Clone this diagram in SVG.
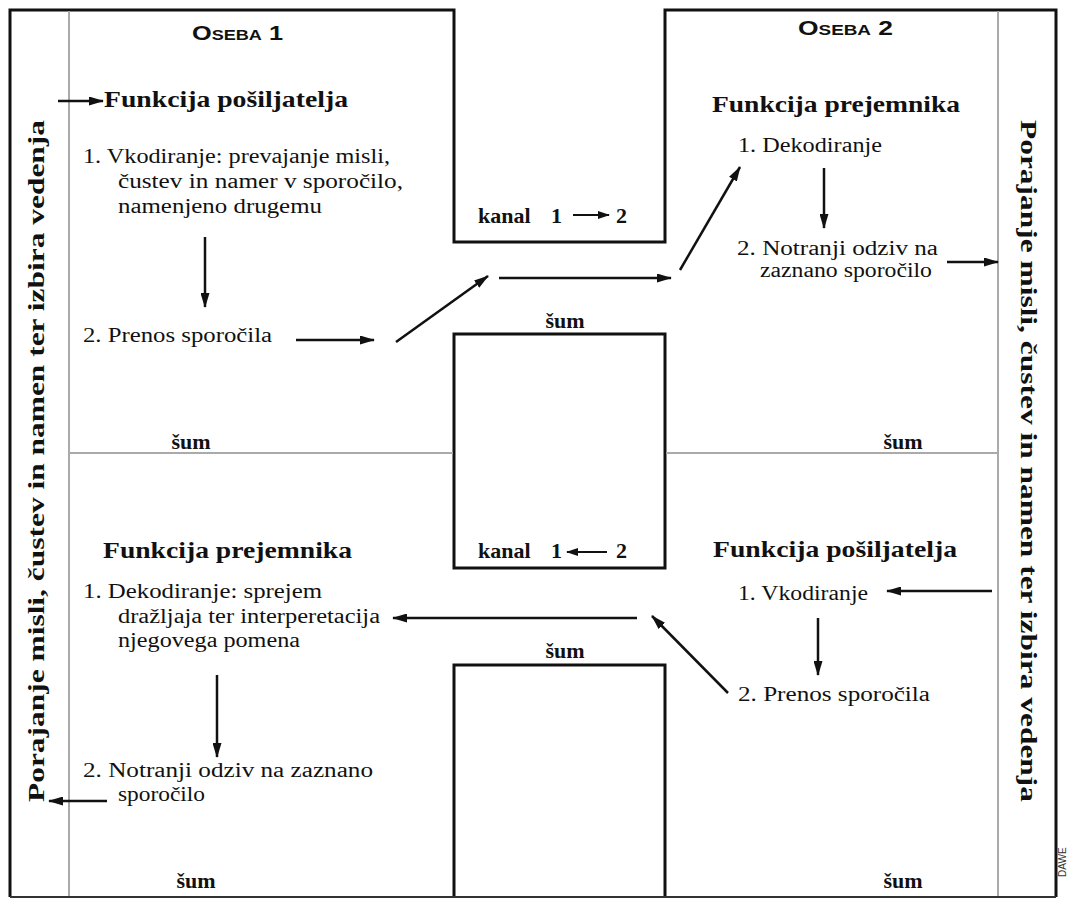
<svg xmlns="http://www.w3.org/2000/svg" width="1067" height="898" viewBox="0 0 1067 898">
<style>
  .frame{fill:none;stroke:#111;stroke-width:3}
  .grey{fill:none;stroke:#aaa;stroke-width:2}
  .bottom{stroke:#333;stroke-width:2}
  .hd{font-family:"Liberation Serif","Times New Roman",serif;font-weight:bold;font-size:24px;fill:#111}
  .tx{font-family:"Liberation Serif","Times New Roman",serif;font-size:20px;fill:#111}
  .sum{font-family:"Liberation Serif","Times New Roman",serif;font-weight:bold;font-size:22px;fill:#111;text-anchor:middle}
  .kan{font-family:"Liberation Serif","Times New Roman",serif;font-weight:bold;font-size:22px;fill:#111}
  .os{font-family:"Liberation Sans",Arial,sans-serif;font-weight:bold;font-size:21px;font-variant:small-caps;fill:#111}
  .vt{font-family:"Liberation Serif","Times New Roman",serif;font-weight:bold;font-size:24px;fill:#111}
  .ar{fill:none;stroke:#111;stroke-width:2.5}
  .ark{fill:none;stroke:#111;stroke-width:2}
</style>
<defs>
  <marker id="ah" markerUnits="userSpaceOnUse" markerWidth="15" markerHeight="9" refX="14" refY="4.5" orient="auto">
    <path d="M0,0 L15,4.5 L0,9 z" fill="#111"/>
  </marker>
  <marker id="ahs" markerUnits="userSpaceOnUse" markerWidth="12" markerHeight="8" refX="11" refY="4" orient="auto">
    <path d="M0,0 L12,4 L0,8 z" fill="#111"/>
  </marker>
</defs>
<rect width="1067" height="898" fill="#fff"/>

<g id="frame">
  <path class="frame" d="M10,897 V10 H454 V242 H665 V10 H1056 V897"/>
  <rect class="frame" x="454" y="334" width="211" height="234"/>
  <path class="frame" d="M454,897 V665 H665 V897"/>
  <line class="bottom" x1="10" y1="897" x2="1056" y2="897"/>
  <line class="grey" x1="69" y1="11" x2="69" y2="896"/>
  <line class="grey" x1="998" y1="11" x2="998" y2="896"/>
  <line class="grey" x1="69" y1="453" x2="453" y2="453"/>
  <line class="grey" x1="666" y1="453" x2="998" y2="453"/>
</g>

<g id="oseba1-label"><text class="os" x="192" y="40" textLength="91" lengthAdjust="spacingAndGlyphs">Oseba 1</text></g>
<g id="oseba2-label"><text class="os" x="798" y="35" textLength="95" lengthAdjust="spacingAndGlyphs">Oseba 2</text></g>

<g id="origin-left">
  <text class="vt" transform="translate(44,802) rotate(-90)" textLength="682" lengthAdjust="spacingAndGlyphs">Porajanje misli, čustev in namen ter izbira vedenja</text>
</g>
<g id="origin-right">
  <text class="vt" transform="translate(1021,120) rotate(90)" textLength="682" lengthAdjust="spacingAndGlyphs">Porajanje misli, čustev in namen ter izbira vedenja</text>
</g>

<g id="p1-sender">
  <text class="hd" x="104" y="107" textLength="244" lengthAdjust="spacingAndGlyphs">Funkcija pošiljatelja</text>
  <text class="tx" x="83" y="163" textLength="307" lengthAdjust="spacingAndGlyphs">1. Vkodiranje: prevajanje misli,</text>
  <text class="tx" x="118" y="188" textLength="285" lengthAdjust="spacingAndGlyphs">čustev in namer v sporočilo,</text>
  <text class="tx" x="118" y="213" textLength="204" lengthAdjust="spacingAndGlyphs">namenjeno drugemu</text>
  <text class="tx" x="83" y="342" textLength="189" lengthAdjust="spacingAndGlyphs">2. Prenos sporočila</text>
</g>

<g id="p2-receiver">
  <text class="hd" x="712" y="112" textLength="248" lengthAdjust="spacingAndGlyphs">Funkcija prejemnika</text>
  <text class="tx" x="738" y="152" textLength="144" lengthAdjust="spacingAndGlyphs">1. Dekodiranje</text>
  <text class="tx" x="737" y="255" textLength="201" lengthAdjust="spacingAndGlyphs">2. Notranji odziv na</text>
  <text class="tx" x="760" y="277" textLength="172" lengthAdjust="spacingAndGlyphs">zaznano sporočilo</text>
</g>

<g id="p1-receiver">
  <text class="hd" x="103" y="558" textLength="249" lengthAdjust="spacingAndGlyphs">Funkcija prejemnika</text>
  <text class="tx" x="83" y="598" textLength="239" lengthAdjust="spacingAndGlyphs">1. Dekodiranje: sprejem</text>
  <text class="tx" x="118" y="623" textLength="262" lengthAdjust="spacingAndGlyphs">dražljaja ter interperetacija</text>
  <text class="tx" x="118" y="647" textLength="182" lengthAdjust="spacingAndGlyphs">njegovega pomena</text>
  <text class="tx" x="83" y="777" textLength="290" lengthAdjust="spacingAndGlyphs">2. Notranji odziv na zaznano</text>
  <text class="tx" x="118" y="801" textLength="87" lengthAdjust="spacingAndGlyphs">sporočilo</text>
</g>

<g id="p2-sender">
  <text class="hd" x="713" y="557" textLength="244" lengthAdjust="spacingAndGlyphs">Funkcija pošiljatelja</text>
  <text class="tx" x="738" y="600" textLength="130" lengthAdjust="spacingAndGlyphs">1. Vkodiranje</text>
  <text class="tx" x="738" y="701" textLength="192" lengthAdjust="spacingAndGlyphs">2. Prenos sporočila</text>
</g>

<g id="channel-1-2">
  <text class="kan" x="478" y="223">kanal<tspan x="551">1</tspan><tspan x="616">2</tspan></text>
</g>
<g id="channel-2-1">
  <text class="kan" x="478" y="558">kanal<tspan x="551">1</tspan><tspan x="616">2</tspan></text>
</g>

<g id="noise">
  <text class="sum" x="565" y="328">šum</text>
  <text class="sum" x="191" y="449">šum</text>
  <text class="sum" x="903" y="449">šum</text>
  <text class="sum" x="565" y="658">šum</text>
  <text class="sum" x="196" y="888">šum</text>
  <text class="sum" x="903" y="888">šum</text>
</g>

<g id="credit">
  <text transform="translate(1066,877) rotate(-90)" font-family="Liberation Sans,Arial,sans-serif" font-size="10" fill="#333">DAWE</text>
</g>

<g id="connectors">
  <line class="ar" x1="58" y1="101" x2="103" y2="101" marker-end="url(#ah)"/>
  <line class="ar" x1="205" y1="237" x2="205" y2="307" marker-end="url(#ah)"/>
  <line class="ar" x1="296" y1="340" x2="374" y2="340" marker-end="url(#ah)"/>
  <line class="ar" x1="396" y1="342" x2="488" y2="276" marker-end="url(#ah)"/>
  <line class="ar" x1="499" y1="278" x2="671" y2="278" marker-end="url(#ah)"/>
  <line class="ar" x1="680" y1="270" x2="740" y2="167" marker-end="url(#ah)"/>
  <line class="ar" x1="824" y1="168" x2="824" y2="228" marker-end="url(#ah)"/>
  <line class="ar" x1="947" y1="262" x2="998" y2="262" marker-end="url(#ah)"/>
  <line class="ar" x1="992" y1="591" x2="887" y2="591" marker-end="url(#ah)"/>
  <line class="ar" x1="818" y1="618" x2="818" y2="675" marker-end="url(#ah)"/>
  <line class="ar" x1="728" y1="693" x2="652" y2="616" marker-end="url(#ah)"/>
  <line class="ar" x1="637" y1="618" x2="393" y2="618" marker-end="url(#ah)"/>
  <line class="ar" x1="217" y1="675" x2="217" y2="757" marker-end="url(#ah)"/>
  <line class="ar" x1="107" y1="801" x2="49" y2="801" marker-end="url(#ah)"/>
  <line class="ark" x1="573" y1="215" x2="609" y2="215" marker-end="url(#ahs)"/>
  <line class="ark" x1="607" y1="552" x2="567" y2="552" marker-end="url(#ahs)"/>
</g>
</svg>
